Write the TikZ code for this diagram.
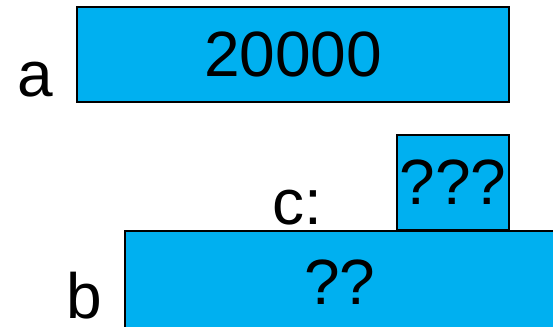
\documentclass[tikz,border=0pt]{standalone}
\usepackage{fontspec}
\setmainfont{Liberation Sans}
\usetikzlibrary{positioning}
\definecolor{boxcyan}{RGB}{0,176,240}
\tikzset{
  numbox/.style={draw=black, fill=boxcyan, line width=2pt, inner sep=0pt,
                 font=\fontsize{64}{64}\selectfont},
  lbl/.style={anchor=base, inner sep=0pt, font=\fontsize{64}{64}\selectfont},
}
\begin{document}
\begin{tikzpicture}[x=1pt, y=-1pt]
    \useasboundingbox (0,0) rectangle (553,326);
    \clip (0,0) rectangle (553,326);
    \node[numbox, minimum width=432pt, minimum height=95pt] (boxa) at (293,54.5) {20000};
    \node[numbox, minimum width=112pt, minimum height=95pt] (boxc) at (453,182.5) {???};
    \node[numbox, minimum width=430pt, minimum height=103pt] (boxb) at (340,282.5) {??};
    \node[lbl] (laba) at (35,96) {a};
    \node[lbl] (labc) at (297,224) {c:};
    \node[lbl] (labb) at (84,318) {b};
  \end{tikzpicture}
\end{document}
